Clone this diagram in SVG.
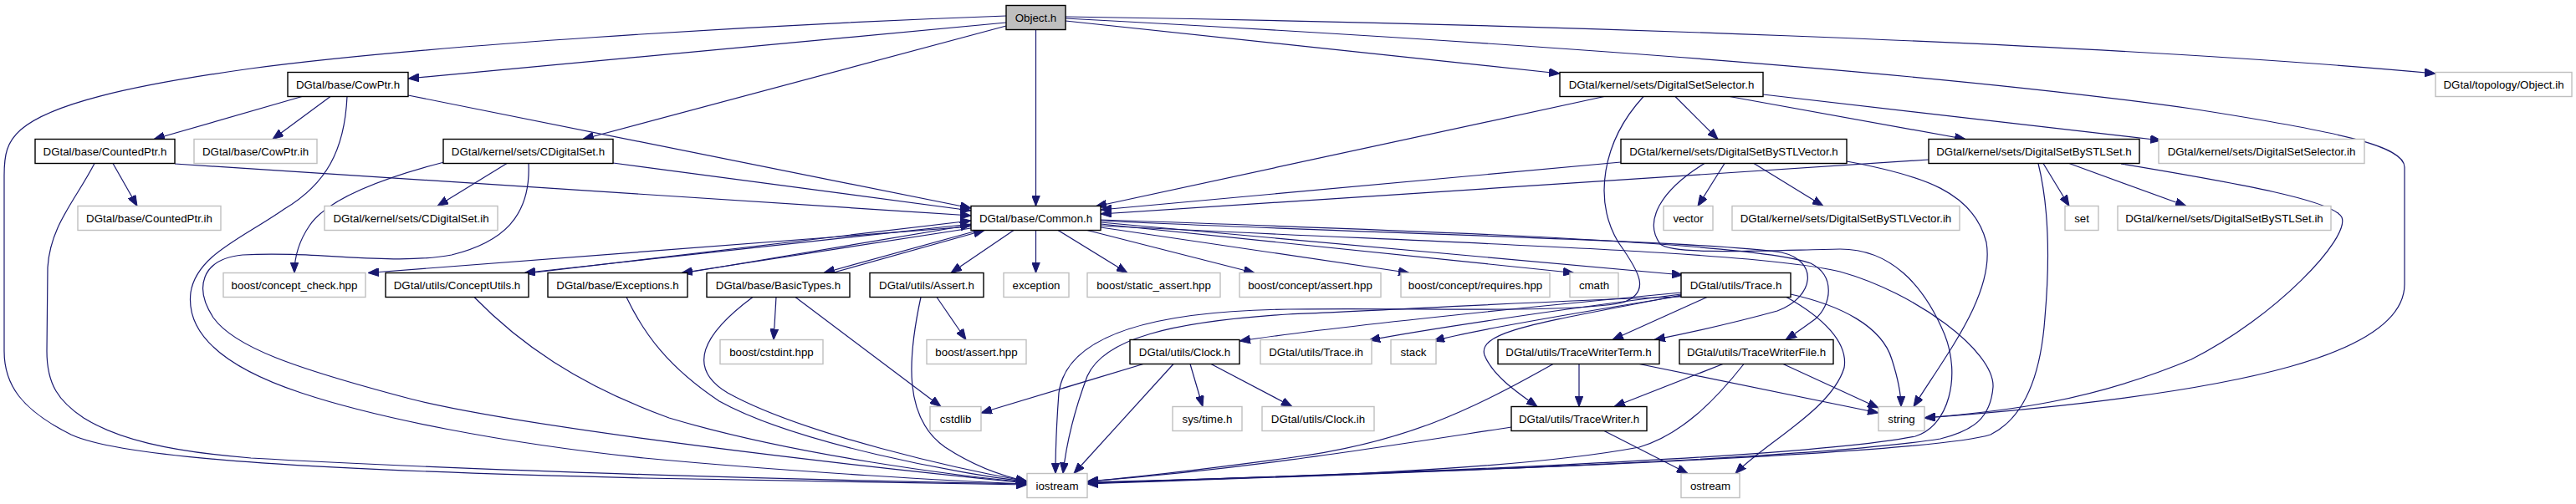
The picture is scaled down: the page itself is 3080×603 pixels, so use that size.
<svg xmlns="http://www.w3.org/2000/svg" width="3080" height="603" viewBox="0 0 3080 603">
<style>
.e{fill:none;stroke:#191970;stroke-width:1.2;marker-end:url(#ah)}
.n rect{fill:#fff;stroke:#000;stroke-width:1.4}
.g rect{fill:#fff;stroke:#bfbfbf;stroke-width:1.4}
#n_object rect{fill:#bfbfbf}
text{font-family:"Liberation Sans",Arial,sans-serif;font-size:13.3px;text-anchor:middle;fill:#000}
</style>
<defs>
<marker id="ah" markerWidth="13" markerHeight="10" refX="13" refY="5" orient="auto" markerUnits="userSpaceOnUse">
<path d="M0,0 L13,5 L0,10 z" fill="#191970" stroke="#191970" stroke-width="1"/>
</marker>
</defs>
<rect width="3080" height="603" fill="#fff"/>
<g id="edges">
<path class="e" d="M1203,19 C900,30 500,55 300,82 C150,103 60,125 25,155 C8,170 5,185 5,210 L5,420 C5,460 25,490 85,520 C150,550 400,563 770,572 C950,576 1100,579 1228,580"/>
<path class="e" d="M1203,27 L488,94"/>
<path class="e" d="M1203,31 L697,166.5"/>
<path class="e" d="M1238.5,35.5 L1238.5,246.5"/>
<path class="e" d="M1274,25 L1865,88"/>
<path class="e" d="M1274,22 C1800,50 2300,85 2620,130 C2800,158 2875,175 2875,200 L2875,340 C2875,420 2700,470 2301,500"/>
<path class="e" d="M1274,20 C1800,28 2500,50 2912,88"/>
<path class="e" d="M361,115.5 L184,166.5"/>
<path class="e" d="M395,115.5 L326,166.5"/>
<path class="e" d="M415,115.5 C412,180 390,220 340,250 C290,285 235,305 228,350 C222,400 270,440 360,470 C450,500 600,530 770,548 C950,565 1150,576 1228,579"/>
<path class="e" d="M488,114 L1161,249"/>
<path class="e" d="M135,195.5 L164,246.5"/>
<path class="e" d="M113,195.5 C90,240 60,270 57,320 L56,420 C56,460 70,480 100,500 C140,525 200,540 300,548 C600,565 1000,575 1228,579"/>
<path class="e" d="M209,196 L1161,258"/>
<path class="e" d="M606,195.5 L523,246.5"/>
<path class="e" d="M531,194 C450,215 390,240 370,270 C355,292 352,310 352,326.5"/>
<path class="e" d="M632,195.5 C635,260 600,290 540,305 C470,318 380,300 290,305 C240,310 232,345 255,380 C280,415 350,440 490,477 C600,505 900,545 1228,578"/>
<path class="e" d="M733,195 L1161,252"/>
<path class="e" d="M1918,115.5 L1310,247"/>
<path class="e" d="M1965,115.5 C1915,170 1905,240 1935,290 C1960,325 1975,350 1940,362 C1880,375 1700,368 1540,370 C1380,372 1275,400 1266,470 C1263,510 1262,540 1262,566.5"/>
<path class="e" d="M2003,115.5 L2054,166.5"/>
<path class="e" d="M2068,115.5 L2350,166.5"/>
<path class="e" d="M2108,113 L2584,168"/>
<path class="e" d="M1938,194 L1316,251"/>
<path class="e" d="M2062,195.5 L2030,246.5"/>
<path class="e" d="M2097,195.5 L2180,246.5"/>
<path class="e" d="M2038,195.5 C1985,228 1965,265 1985,292 C2000,305 2100,300 2200,298 C2260,298 2300,340 2325,400 C2345,450 2330,510 2290,522 C2150,550 1600,568 1300,578"/>
<path class="e" d="M2208,193 C2300,210 2360,230 2375,290 C2385,350 2330,420 2288,486.5"/>
<path class="e" d="M2306,191 L1316,256"/>
<path class="e" d="M2443,195.5 L2474,246.5"/>
<path class="e" d="M2474,195.5 L2614,246.5"/>
<path class="e" d="M2437,195.5 C2448,240 2452,300 2445,380 C2440,450 2420,500 2380,520 C2300,545 1700,565 1300,579"/>
<path class="e" d="M2536,196 C2680,220 2790,240 2800,260 C2810,285 2720,380 2620,430 C2500,480 2400,492 2301,500"/>
<path class="e" d="M1161,271 L440,326.5"/>
<path class="e" d="M1161,268 L627,326.5"/>
<path class="e" d="M635,326.5 L1161,264"/>
<path class="e" d="M1161,273 L815,326.5"/>
<path class="e" d="M822,326 L1161,269"/>
<path class="e" d="M1170,275.5 L985,326.5"/>
<path class="e" d="M995,326.5 L1177,275.5"/>
<path class="e" d="M1212,275.5 L1137,326.5"/>
<path class="e" d="M1238.5,275.5 L1238.5,326.5"/>
<path class="e" d="M1265,275.5 L1348,326.5"/>
<path class="e" d="M1300,275.5 L1500,326.5"/>
<path class="e" d="M1316,272 L1685,326.5"/>
<path class="e" d="M1316,268 L1882,326.5"/>
<path class="e" d="M1316,266 L2012,329"/>
<path class="e" d="M1316,264 C1600,278 2040,288 2130,302 C2175,312 2170,355 2125,372 C2060,390 2010,400 1978,406.5"/>
<path class="e" d="M1316,263 C1700,276 2100,290 2165,315 C2195,330 2190,365 2170,382 C2155,393 2145,400 2135,406.5"/>
<path class="e" d="M1316,270 C1700,290 2100,300 2200,325 C2290,350 2385,420 2383,463 C2380,500 2360,515 2320,525 C2150,552 1600,568 1300,578"/>
<path class="e" d="M567,355.5 C620,410 690,460 800,500 C950,545 1150,570 1228,577"/>
<path class="e" d="M749,355.5 C770,400 800,440 860,480 C950,530 1150,568 1228,576"/>
<path class="e" d="M928,355.5 L925,406.5"/>
<path class="e" d="M951,355.5 L1125,486.5"/>
<path class="e" d="M900,355.5 C840,400 820,440 870,470 C960,520 1150,562 1228,576"/>
<path class="e" d="M1120,355.5 L1155,406.5"/>
<path class="e" d="M1101,355.5 C1085,430 1080,500 1130,535 C1165,558 1200,570 1228,576"/>
<path class="e" d="M2041,355.5 L1928,406.5"/>
<path class="e" d="M2010,353 C1850,385 1765,395 1775,425 C1785,450 1815,470 1838,486.5"/>
<path class="e" d="M2141,352 C2200,365 2250,390 2262,430 C2270,455 2273,470 2273,486.5"/>
<path class="e" d="M2136,355.5 C2180,380 2210,410 2205,440 C2190,490 2110,530 2075,566.5"/>
<path class="e" d="M2010,350 C1800,370 1600,390 1482,408"/>
<path class="e" d="M2010,352 C1850,372 1700,395 1637,407"/>
<path class="e" d="M2010,354 C1880,375 1760,395 1714,408"/>
<path class="e" d="M2010,355 C1800,362 1650,372 1540,376 C1400,385 1320,405 1300,450 C1285,490 1275,530 1271,566.5"/>
<path class="e" d="M1888,435.5 L1888,486.5"/>
<path class="e" d="M1960,435.5 L2246,494"/>
<path class="e" d="M1857,435.5 C1760,490 1680,530 1540,548 C1450,560 1350,572 1300,576"/>
<path class="e" d="M2060,435.5 L1930,486.5"/>
<path class="e" d="M2132,435.5 L2246,488"/>
<path class="e" d="M2085,435.5 C2050,480 2010,520 1960,535 C1800,565 1500,572 1300,577"/>
<path class="e" d="M1918,515.5 L2018,566.5"/>
<path class="e" d="M1807,511 C1650,535 1500,560 1300,576"/>
<path class="e" d="M1367,435.5 L1173,494"/>
<path class="e" d="M1403,435.5 L1284,566.5"/>
<path class="e" d="M1423,435.5 L1438,486.5"/>
<path class="e" d="M1448,435.5 L1545,486.5"/>
</g>
<g id="n_object" class="n"><rect x="1203" y="6.5" width="71" height="29"/><text x="1238.5" y="25.5">Object.h</text></g>
<g id="n_cowptr" class="n"><rect x="344" y="86.5" width="144" height="29"/><text x="416" y="105.5">DGtal/base/CowPtr.h</text></g>
<g id="n_selector" class="n"><rect x="1865" y="86.5" width="243" height="29"/><text x="1986.5" y="105.5">DGtal/kernel/sets/DigitalSetSelector.h</text></g>
<g id="n_objectih" class="g"><rect x="2912" y="86.5" width="163" height="29"/><text x="2993.5" y="105.5">DGtal/topology/Object.ih</text></g>
<g id="n_countedptr" class="n"><rect x="42" y="166.5" width="167" height="29"/><text x="125.5" y="185.5">DGtal/base/CountedPtr.h</text></g>
<g id="n_cowptrih" class="g"><rect x="232" y="166.5" width="147" height="29"/><text x="305.5" y="185.5">DGtal/base/CowPtr.ih</text></g>
<g id="n_cdigitalset" class="n"><rect x="530" y="166.5" width="203" height="29"/><text x="631.5" y="185.5">DGtal/kernel/sets/CDigitalSet.h</text></g>
<g id="n_stlvector" class="n"><rect x="1938" y="166.5" width="270" height="29"/><text x="2073" y="185.5">DGtal/kernel/sets/DigitalSetBySTLVector.h</text></g>
<g id="n_stlset" class="n"><rect x="2306" y="166.5" width="252" height="29"/><text x="2432" y="185.5">DGtal/kernel/sets/DigitalSetBySTLSet.h</text></g>
<g id="n_selectorih" class="g"><rect x="2581" y="166.5" width="246" height="29"/><text x="2704" y="185.5">DGtal/kernel/sets/DigitalSetSelector.ih</text></g>
<g id="n_countedptrih" class="g"><rect x="93" y="246.5" width="171" height="29"/><text x="178.5" y="265.5">DGtal/base/CountedPtr.ih</text></g>
<g id="n_cdigitalsetih" class="g"><rect x="388" y="246.5" width="207" height="29"/><text x="491.5" y="265.5">DGtal/kernel/sets/CDigitalSet.ih</text></g>
<g id="n_common" class="n"><rect x="1161" y="246.5" width="155" height="29"/><text x="1238.5" y="265.5">DGtal/base/Common.h</text></g>
<g id="n_vector" class="g"><rect x="1989" y="246.5" width="59" height="29"/><text x="2018.5" y="265.5">vector</text></g>
<g id="n_stlvectorih" class="g"><rect x="2071" y="246.5" width="272" height="29"/><text x="2207" y="265.5">DGtal/kernel/sets/DigitalSetBySTLVector.ih</text></g>
<g id="n_set" class="g"><rect x="2469" y="246.5" width="40" height="29"/><text x="2489" y="265.5">set</text></g>
<g id="n_stlsetih" class="g"><rect x="2532" y="246.5" width="255" height="29"/><text x="2659.5" y="265.5">DGtal/kernel/sets/DigitalSetBySTLSet.ih</text></g>
<g id="n_conceptcheck" class="g"><rect x="267" y="326.5" width="170" height="29"/><text x="352" y="345.5">boost/concept_check.hpp</text></g>
<g id="n_conceptutils" class="n"><rect x="461" y="326.5" width="171" height="29"/><text x="546.5" y="345.5">DGtal/utils/ConceptUtils.h</text></g>
<g id="n_exceptions" class="n"><rect x="655" y="326.5" width="167" height="29"/><text x="738.5" y="345.5">DGtal/base/Exceptions.h</text></g>
<g id="n_basictypes" class="n"><rect x="845" y="326.5" width="171" height="29"/><text x="930.5" y="345.5">DGtal/base/BasicTypes.h</text></g>
<g id="n_assert" class="n"><rect x="1040" y="326.5" width="136" height="29"/><text x="1108" y="345.5">DGtal/utils/Assert.h</text></g>
<g id="n_exception" class="g"><rect x="1200" y="326.5" width="78" height="29"/><text x="1239" y="345.5">exception</text></g>
<g id="n_staticassert" class="g"><rect x="1300" y="326.5" width="159" height="29"/><text x="1379.5" y="345.5">boost/static_assert.hpp</text></g>
<g id="n_conceptassert" class="g"><rect x="1482" y="326.5" width="169" height="29"/><text x="1566.5" y="345.5">boost/concept/assert.hpp</text></g>
<g id="n_requires" class="g"><rect x="1675" y="326.5" width="178" height="29"/><text x="1764" y="345.5">boost/concept/requires.hpp</text></g>
<g id="n_cmath" class="g"><rect x="1877" y="326.5" width="58" height="29"/><text x="1906" y="345.5">cmath</text></g>
<g id="n_trace" class="n"><rect x="2010" y="326.5" width="131" height="29"/><text x="2075.5" y="345.5">DGtal/utils/Trace.h</text></g>
<g id="n_cstdint" class="g"><rect x="861" y="406.5" width="123" height="29"/><text x="922.5" y="425.5">boost/cstdint.hpp</text></g>
<g id="n_boostassert" class="g"><rect x="1108" y="406.5" width="119" height="29"/><text x="1167.5" y="425.5">boost/assert.hpp</text></g>
<g id="n_clock" class="n"><rect x="1351" y="406.5" width="131" height="29"/><text x="1416.5" y="425.5">DGtal/utils/Clock.h</text></g>
<g id="n_traceih" class="g"><rect x="1507" y="406.5" width="133" height="29"/><text x="1573.5" y="425.5">DGtal/utils/Trace.ih</text></g>
<g id="n_stack" class="g"><rect x="1663" y="406.5" width="54" height="29"/><text x="1690" y="425.5">stack</text></g>
<g id="n_twterm" class="n"><rect x="1791" y="406.5" width="193" height="29"/><text x="1887.5" y="425.5">DGtal/utils/TraceWriterTerm.h</text></g>
<g id="n_twfile" class="n"><rect x="2008" y="406.5" width="184" height="29"/><text x="2100" y="425.5">DGtal/utils/TraceWriterFile.h</text></g>
<g id="n_cstdlib" class="g"><rect x="1112" y="486.5" width="61" height="29"/><text x="1142.5" y="505.5">cstdlib</text></g>
<g id="n_systime" class="g"><rect x="1402" y="486.5" width="83" height="29"/><text x="1443.5" y="505.5">sys/time.h</text></g>
<g id="n_clockih" class="g"><rect x="1509" y="486.5" width="134" height="29"/><text x="1576" y="505.5">DGtal/utils/Clock.ih</text></g>
<g id="n_tracewriter" class="n"><rect x="1807" y="486.5" width="162" height="29"/><text x="1888" y="505.5">DGtal/utils/TraceWriter.h</text></g>
<g id="n_string" class="g"><rect x="2246" y="486.5" width="55" height="29"/><text x="2273.5" y="505.5">string</text></g>
<g id="n_iostream" class="g"><rect x="1228" y="566.5" width="72" height="29"/><text x="1264" y="585.5">iostream</text></g>
<g id="n_ostream" class="g"><rect x="2010" y="566.5" width="70" height="29"/><text x="2045" y="585.5">ostream</text></g>
</svg>
